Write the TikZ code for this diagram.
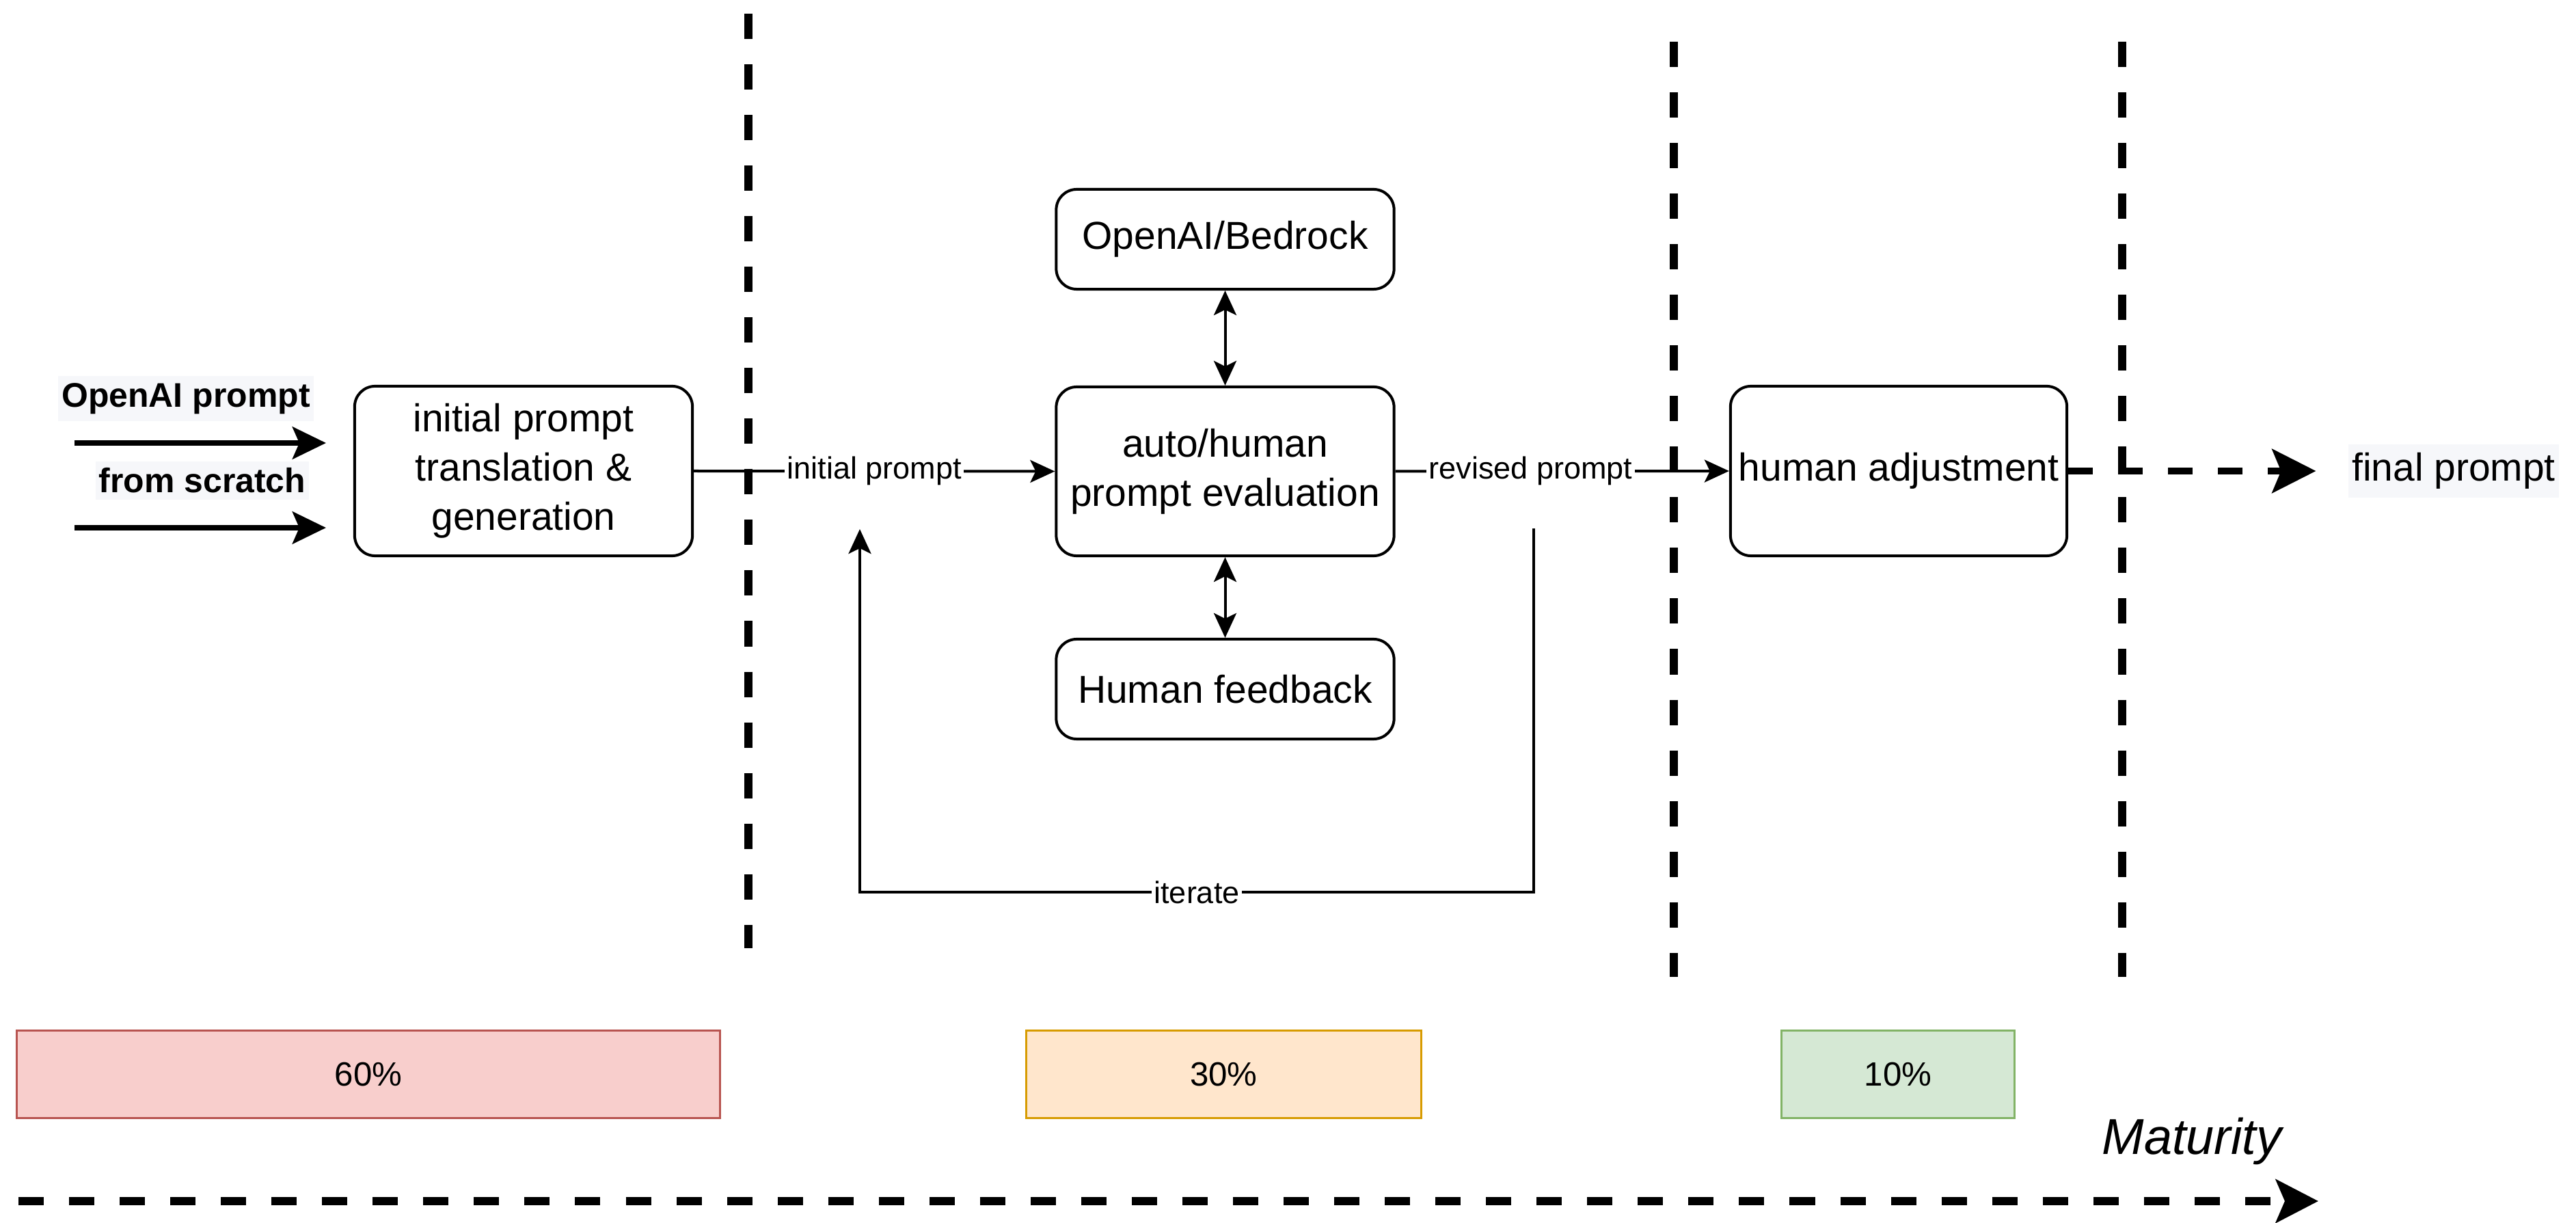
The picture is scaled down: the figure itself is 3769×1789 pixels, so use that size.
\documentclass[tikz,border=0pt]{standalone}
\usepackage{fontspec}
\setmainfont{Liberation Sans}
\usetikzlibrary{arrows.meta}
\definecolor{lblbg}{RGB}{246,247,250}
\definecolor{redfill}{HTML}{F8CECC}
\definecolor{redline}{HTML}{B85450}
\definecolor{orangefill}{HTML}{FFE6CC}
\definecolor{orangeline}{HTML}{D79B00}
\definecolor{greenfill}{HTML}{D5E8D4}
\definecolor{greenline}{HTML}{82B366}
\begin{document}
\begin{tikzpicture}[x=0.01cm,y=-0.01cm,
  boxtxt/.style={font=\fontsize{16.2}{20.4}\selectfont},
  procbox/.style={draw, line width=0.04cm, rounded corners=0.3cm, align=center,
    inner sep=0pt, minimum width=4.94cm, boxtxt},
  edgelbl/.style={fill=white, inner sep=1pt, font=\fontsize{12.8}{15}\selectfont},
  inlbl/.style={fill=lblbg, inner xsep=0.05cm, inner ysep=0.1cm,
    font=\bfseries\fontsize{14.2}{17}\selectfont},
  thinarrow/.style={line width=0.04cm, -{Stealth[length=0.36cm,width=0.33cm,inset=0.08cm]}},
  bothways/.style={line width=0.04cm,
    {Stealth[length=0.36cm,width=0.33cm,inset=0.08cm]}-{Stealth[length=0.36cm,width=0.33cm,inset=0.08cm]}},
  inarrow/.style={line width=0.08cm, -{Stealth[length=0.49cm,width=0.47cm,inset=0.1cm]}},
  divider/.style={line width=0.12cm, dash pattern=on 0.37cm off 0.37cm},
  outarrow/.style={line width=0.10cm, dash pattern=on 0.36cm off 0.37cm,
    -{Stealth[length=0.64cm,width=0.64cm,inset=0.13cm]}},
  matarrow/.style={line width=0.12cm, dash pattern=on 0.37cm off 0.37cm,
    -{Stealth[length=0.62cm,width=0.63cm,inset=0.13cm]}},
  share/.style={line width=0.03cm, minimum height=1.27cm, inner sep=0pt,
    font=\fontsize{14}{17}\selectfont}
]
\useasboundingbox (0,0) rectangle (3769,1789);

% phase separators
\coordinate (d1t) at (1094.5,20);   \coordinate (d1b) at (1094.5,1387);
\coordinate (d2t) at (2449,61);     \coordinate (d2b) at (2449,1429);
\coordinate (d3t) at (3105,61);     \coordinate (d3b) at (3105,1429);
\draw[divider] (d1t) -- (d1b);
\draw[divider] (d2t) -- (d2b);
\draw[divider] (d3t) -- (d3b);

% process boxes
\node[procbox, minimum height=2.48cm] (init) at (766,689)
  {initial prompt\\translation \&\\generation};
\node[procbox, minimum height=2.47cm] (eval) at (1792.5,689.5)
  {auto/human\\prompt evaluation};
\node[procbox, minimum height=1.46cm] (llm) at (1792.5,350) {OpenAI/Bedrock};
\node[procbox, minimum height=1.46cm] (fb) at (1792.5,1008) {Human feedback};
\node[procbox, minimum width=4.92cm, minimum height=2.48cm] (adj) at (2778,689)
  {human adjustment};
\node[boxtxt, fill=lblbg, inner xsep=0.05cm, inner ysep=0.12cm] (final) at (3590,689)
  {final prompt};

% inputs
\node[inlbl] (src1) at (272,583) {OpenAI prompt};
\node[inlbl] (src2) at (296,703) {from scratch};
\coordinate (a1s) at (109,648); \coordinate (a1e) at (477,648);
\coordinate (a2s) at (109,772); \coordinate (a2e) at (477,772);
\draw[inarrow] (a1s) -- (a1e);
\draw[inarrow] (a2s) -- (a2e);

% main flow
\draw[thinarrow] (init.east) -- node[edgelbl, pos=0.5] {initial prompt} (eval.west);
\draw[thinarrow] (eval.east) -- node[edgelbl, pos=0.405] {revised prompt} (adj.west);
\draw[bothways] (llm.south) -- (eval.north);
\draw[bothways] (eval.south) -- (fb.north);
\draw[outarrow] (adj.east) -- ([xshift=-0.47cm]final.west);

% feedback loop
\coordinate (ls) at (2244,773);
\coordinate (le) at (1258,774);
\draw[thinarrow] (ls) -- ++(0,532) -| node[edgelbl, pos=0.25] {iterate} (le);

% effort shares
\node[share, draw=redline, fill=redfill, minimum width=10.28cm] (p60) at (539,1571.5) {60\%};
\node[share, draw=orangeline, fill=orangefill, minimum width=5.77cm] (p30) at (1790.5,1571.5) {30\%};
\node[share, draw=greenline, fill=greenfill, minimum width=3.40cm] (p10) at (2777,1571.5) {10\%};

% maturity axis
\node[anchor=base, inner sep=0pt, font=\itshape\fontsize{21}{25}\selectfont] (mat) at (3207,1688) {Maturity};
\coordinate (ms) at (27,1757);
\coordinate (me) at (3392,1757);
\draw[matarrow] (ms) -- (me);
\end{tikzpicture}
\end{document}
